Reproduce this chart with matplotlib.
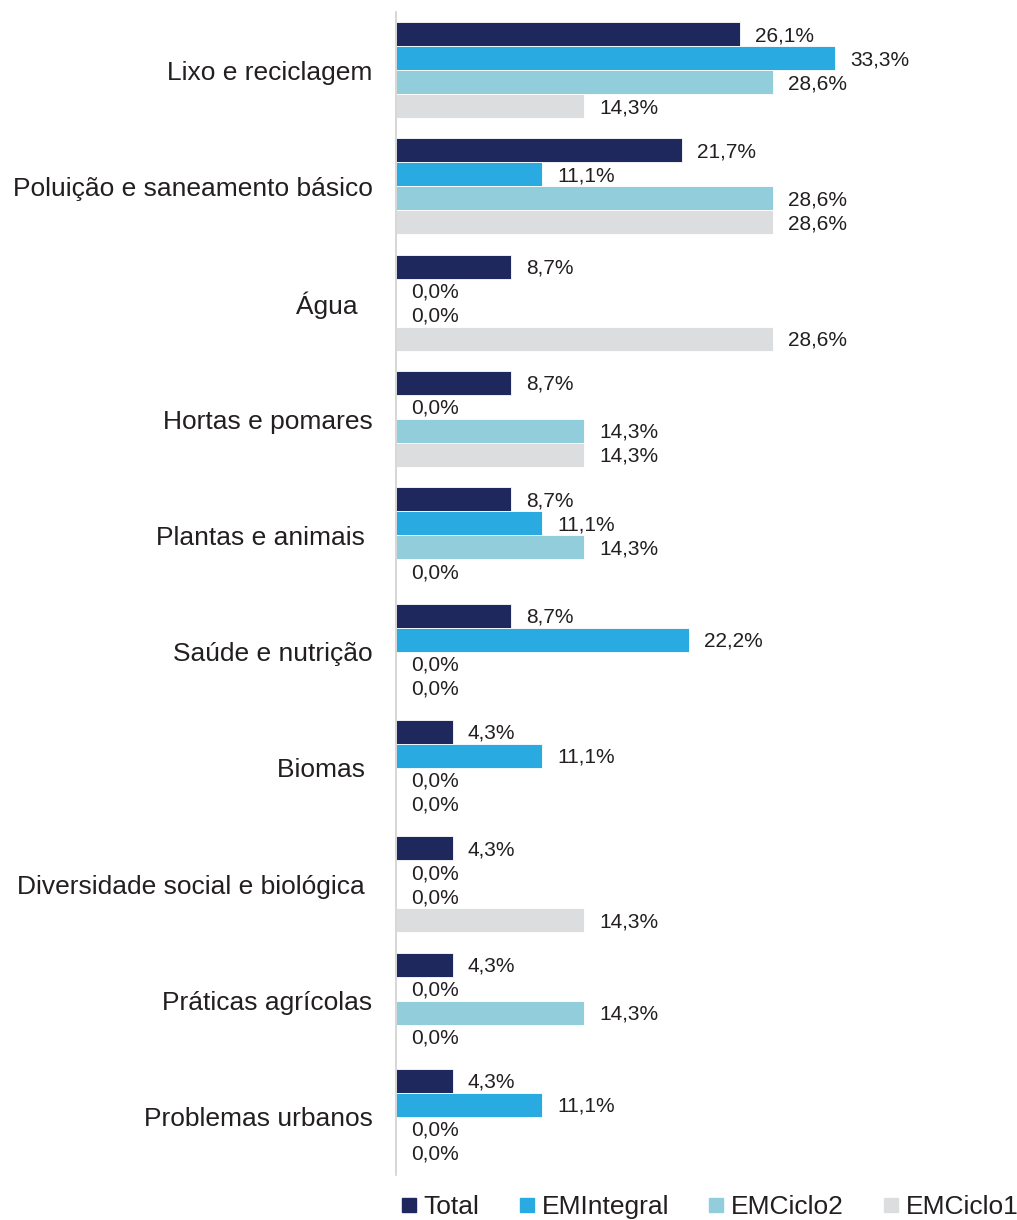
import matplotlib
matplotlib.use('Agg')
import matplotlib.pyplot as plt
from matplotlib.lines import Line2D
import numpy as np

plt.rcParams.update({
    'font.family': ['Liberation Sans', 'DejaVu Sans'],
    'text.color': '#231F20',
})

# ── Dados (% por tema) ─────────────────────────────────────────────────────────

temas = ['Lixo e reciclagem', 'Poluição e saneamento básico', 'Água  ',
         'Hortas e pomares', 'Plantas e animais ', 'Saúde e nutrição',
         'Biomas ', 'Diversidade social e biológica ', 'Práticas agrícolas',
         'Problemas urbanos']

series = ['Total', 'EMIntegral', 'EMCiclo2', 'EMCiclo1']

total      = [26.1, 21.7, 8.7, 8.7, 8.7, 8.7, 4.3, 4.3, 4.3, 4.3]
emintegral = [33.3, 11.1, 0.0, 0.0, 11.1, 22.2, 11.1, 0.0, 0.0, 11.1]
emciclo2   = [28.6, 28.6, 0.0, 14.3, 14.3, 0.0, 0.0, 0.0, 14.3, 0.0]
emciclo1   = [14.3, 28.6, 28.6, 14.3, 0.0, 0.0, 0.0, 14.3, 0.0, 0.0]

cores = ['#1F285C', '#29ABE2', '#92CDDC', '#DCDDDE']

W, H = 1017, 1220
fig = plt.figure(figsize=(W / 100, H / 100), dpi=100)
ax = fig.add_axes([396 / W, 1 - 1175 / H, 600 / W, 1163 / H])

y = np.arange(len(temas))
h = 24 / 116.3
valores = [total, emintegral, emciclo2, emciclo1]
for k, (vals, cor) in enumerate(zip(valores, cores)):
    pos = y + (k - 1.5) * h
    ax.barh(pos, vals, height=h, color=cor, edgecolor='white', linewidth=0.6)
    for p, v in zip(pos, vals):
        ax.annotate(f'{v:.1f}%'.replace('.', ','), xy=(v, p), xytext=(11, -1),
                    textcoords='offset points', ha='left', va='center',
                    fontsize=15, color='#231F20')

ax.set_xlim(0, 600 / 13.18)
ax.set_ylim(len(temas) - 0.5, -0.5)
ax.set_yticks(y)
ax.set_yticklabels(temas, fontsize=19, color='#231F20')
ax.tick_params(axis='y', length=0, pad=17)
ax.set_xticks([])
for s in ['top', 'right', 'bottom']:
    ax.spines[s].set_visible(False)
ax.spines['left'].set_color('#D0D0D0')
ax.spines['left'].set_linewidth(1.2)

handles = [Line2D([], [], linestyle='none', marker='s', markersize=10,
                  markerfacecolor=c, markeredgecolor=c) for c in cores]
fig.legend(handles, series, loc='center', bbox_to_anchor=(0.698, 0.0107),
           ncol=4, frameon=False, fontsize=19, handlelength=0.6,
           handletextpad=0.25, columnspacing=1.5, borderpad=0)

fig.savefig('out.png', dpi=100)
